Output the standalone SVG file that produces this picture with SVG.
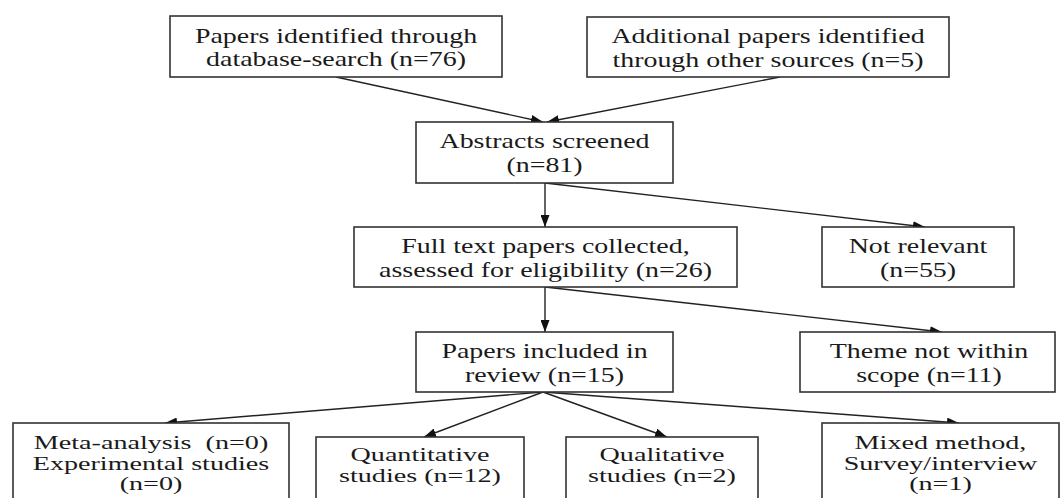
<svg xmlns="http://www.w3.org/2000/svg" width="1062" height="498" viewBox="0 0 1062 498">
<style>
  .box { fill: #ffffff; stroke: #333333; stroke-width: 1.6; }
  .t { font-family: "Liberation Serif", "Times New Roman", serif; font-size: 22px; fill: #1a1a1a; text-anchor: middle; }
  .b { font-family: "Liberation Serif", "Times New Roman", serif; font-size: 18.5px; fill: #1a1a1a; text-anchor: middle; }
  .con { fill: none; stroke: #222222; stroke-width: 1.4; marker-end: url(#ah); }
</style>
<defs>
  <marker id="ah" markerUnits="userSpaceOnUse" markerWidth="12" markerHeight="9" refX="12" refY="4.5" orient="auto">
    <path d="M0,0 L12,4.5 L0,9 z" fill="#111111"/>
  </marker>
</defs>
<rect x="0" y="0" width="1062" height="498" fill="#ffffff"/>

<g id="connectors">
  <path class="con" d="M336,77 L543,122"/>
  <path class="con" d="M780,77 L547,122"/>
  <path class="con" d="M545,183 L545,227"/>
  <path class="con" d="M545,183 L925,227"/>
  <path class="con" d="M545,287 L545,332"/>
  <path class="con" d="M545,287 L942,332"/>
  <path class="con" d="M543,392 L165,423"/>
  <path class="con" d="M543,392 L424,437"/>
  <path class="con" d="M543,392 L667,437"/>
  <path class="con" d="M543,392 L959,423"/>
</g>

<g id="database">
  <rect class="box" x="170" y="16" width="332" height="61"/>
  <text class="t" x="0" y="43" transform="translate(336 0) scale(1.27 1)">Papers identified through</text>
  <text class="t" x="0" y="66" transform="translate(336 0) scale(1.27 1)">database-search (n=76)</text>
</g>

<g id="additional">
  <rect class="box" x="587" y="17" width="362" height="60"/>
  <text class="t" x="0" y="43" transform="translate(768 0) scale(1.27 1)">Additional papers identified</text>
  <text class="t" x="0" y="67" transform="translate(768 0) scale(1.27 1)">through other sources (n=5)</text>
</g>

<g id="abstracts">
  <rect class="box" x="416" y="122" width="257" height="61"/>
  <text class="t" x="0" y="148" transform="translate(544.5 0) scale(1.27 1)">Abstracts screened</text>
  <text class="t" x="0" y="172" transform="translate(544.5 0) scale(1.27 1)">(n=81)</text>
</g>

<g id="fulltext">
  <rect class="box" x="354" y="227" width="383" height="60"/>
  <text class="t" x="0" y="253" transform="translate(545.5 0) scale(1.27 1)">Full text papers collected,</text>
  <text class="t" x="0" y="277" transform="translate(545.5 0) scale(1.27 1)">assessed for eligibility (n=26)</text>
</g>

<g id="notrelevant">
  <rect class="box" x="822" y="227" width="192" height="60"/>
  <text class="t" x="0" y="253" transform="translate(918 0) scale(1.27 1)">Not relevant</text>
  <text class="t" x="0" y="277" transform="translate(918 0) scale(1.27 1)">(n=55)</text>
</g>

<g id="included">
  <rect class="box" x="416" y="332" width="257" height="60"/>
  <text class="t" x="0" y="358" transform="translate(544.5 0) scale(1.27 1)">Papers included in</text>
  <text class="t" x="0" y="382" transform="translate(544.5 0) scale(1.27 1)">review (n=15)</text>
</g>

<g id="theme">
  <rect class="box" x="800" y="332" width="255" height="60"/>
  <text class="t" x="0" y="358" transform="translate(929 0) scale(1.27 1)">Theme not within</text>
  <text class="t" x="0" y="382" transform="translate(929 0) scale(1.27 1)">scope (n=11)</text>
</g>

<g id="meta">
  <rect class="box" x="13" y="423" width="276" height="90"/>
  <text class="b" x="0" y="449" transform="translate(151 0) scale(1.52 1)">Meta-analysis&#160; (n=0)</text>
  <text class="b" x="0" y="470" transform="translate(151 0) scale(1.52 1)">Experimental studies</text>
  <text class="b" x="0" y="490" transform="translate(151 0) scale(1.52 1)">(n=0)</text>
</g>

<g id="quantitative">
  <rect class="box" x="316" y="437" width="208" height="80"/>
  <text class="b" x="0" y="461" transform="translate(420 0) scale(1.52 1)">Quantitative</text>
  <text class="b" x="0" y="482" transform="translate(420 0) scale(1.52 1)">studies (n=12)</text>
</g>

<g id="qualitative">
  <rect class="box" x="566" y="437" width="192" height="80"/>
  <text class="b" x="0" y="461" transform="translate(662 0) scale(1.52 1)">Qualitative</text>
  <text class="b" x="0" y="482" transform="translate(662 0) scale(1.52 1)">studies (n=2)</text>
</g>

<g id="mixed">
  <rect class="box" x="822" y="423" width="237" height="90"/>
  <text class="b" x="0" y="449" transform="translate(940.5 0) scale(1.52 1)">Mixed method,</text>
  <text class="b" x="0" y="470" transform="translate(940.5 0) scale(1.52 1)">Survey/interview</text>
  <text class="b" x="0" y="490" transform="translate(940.5 0) scale(1.52 1)">(n=1)</text>
</g>
</svg>
